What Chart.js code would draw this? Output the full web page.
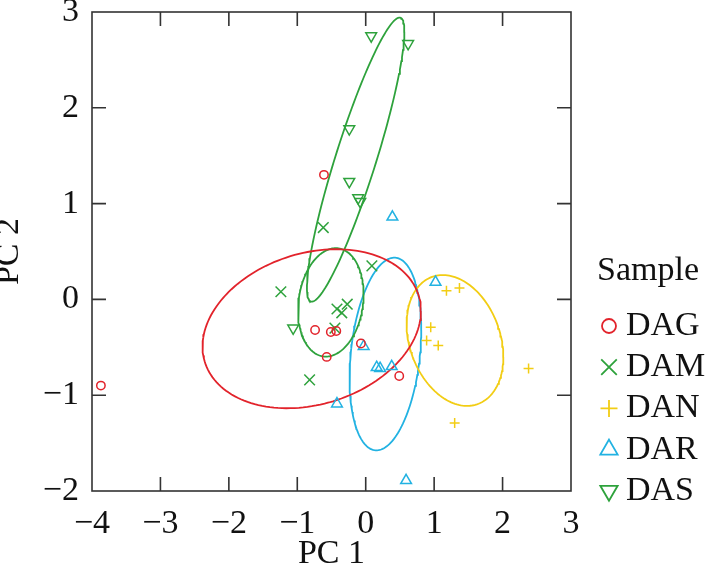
<!DOCTYPE html>
<html>
<head>
<meta charset="utf-8">
<script src="https://cdn.jsdelivr.net/npm/chart.js@4.4.0/dist/chart.umd.min.js"></script>
<style>
html, body { margin: 0; padding: 0; background: #fff; }
</style>
</head>
<body>
<canvas id="pca" width="709" height="578"></canvas>
<script>
// Sample groups and scores on PC1 / PC2
const groups = ['DAG', 'DAM', 'DAN', 'DAR', 'DAS'];

const dagX = [-0.61, -3.87, -0.74, -0.51, -0.43, -0.57, -0.07, 0.49];
const dagY = [1.30, -0.90, -0.32, -0.34, -0.33, -0.60, -0.46, -0.80];

const damX = [-0.62, 0.09, -1.24, -0.82, -0.42, -0.27, -0.35, -0.45];
const damY = [0.75, 0.35, 0.08, -0.84, -0.10, -0.05, -0.14, -0.30];

const danX = [1.18, 1.37, 0.95, 0.89, 1.06, 2.38, 1.30];
const danY = [0.09, 0.12, -0.29, -0.43, -0.48, -0.72, -1.29];

const darX = [0.39, 1.02, -0.03, 0.16, 0.21, 0.38, -0.42, 0.59];
const darY = [0.86, 0.18, -0.49, -0.71, -0.72, -0.70, -1.09, -1.89];

const dasX = [0.08, 0.62, -0.24, -0.24, -0.11, -0.08, -1.06];
const dasY = [2.75, 2.67, 1.78, 1.23, 1.06, 1.02, -0.30];

// ellipse half-extents (x, y) and tilt (cos of phase)
const ellRx = [1.596, 0.479, 0.707, 0.524, 0.712];
const ellRy = [0.830, 0.566, 0.683, 1.006, 1.483];
const ellCos = [0.224, 0.15, -0.251, 0.25, 0.90];

const xTicks = [-4, -3, -2, -1, 0, 1, 2, 3];
const yTicks = [-2, -1, 0, 1, 2, 3];

const colors = ['#e2232b', '#2ea23c', '#f2cd14', '#22b2e2', '#2ea23c'];
const styles = ['circle', 'crossRot', 'cross', 'triangle', 'triangle'];
const rotations = [0, 0, 0, 0, 180];
const radii = [4.2, 7.5, 5, 6.2, 6.2];
const legendRadii = [7, 11, 8.5, 10, 10];

const FONT = 'Liberation Serif, Times New Roman, serif';

const xs = [dagX, damX, danX, darX, dasX];
const ys = [dagY, damY, danY, darY, dasY];

const mean = a => a.reduce((s, v) => s + v, 0) / a.length;

function ellipse(gx, gy, rx, ry, c) {
    const cx = mean(gx), cy = mean(gy);
    const phi = Math.acos(c);
    const pts = [];
    for (let k = 0; k <= 160; k++) {
        const t = k / 160 * 2 * Math.PI;
        pts.push({ x: cx + rx * Math.cos(t), y: cy + ry * Math.cos(t - phi) });
    }
    return pts;
}

const fmt = v => v < 0 ? '\u2212' + Math.abs(v) : String(v);

const datasets = [];
groups.forEach((g, i) => {
    datasets.push({
        label: g,
        data: xs[i].map((x, j) => ({ x: x, y: ys[i][j] })),
        pointStyle: styles[i],
        rotation: rotations[i],
        pointRadius: radii[i],
        pointBorderWidth: 1.5,
        borderColor: colors[i],
        backgroundColor: 'rgba(0,0,0,0)',
        showLine: false
    });
});
groups.forEach((g, i) => {
    datasets.push({
        label: g + ' ellipse',
        data: ellipse(xs[i], ys[i], ellRx[i], ellRy[i], ellCos[i]),
        showLine: true,
        pointRadius: 0,
        borderColor: colors[i],
        borderWidth: 1.8,
        fill: false,
        tension: 0
    });
});

// box around the plot with inward ticks
const framePlugin = {
    id: 'frame',
    beforeDatasetsDraw(chart) {
        const { ctx, chartArea: a, scales: { x, y } } = chart;
        ctx.save();
        ctx.strokeStyle = '#333';
        ctx.lineWidth = 1.6;
        ctx.strokeRect(a.left, a.top, a.right - a.left, a.bottom - a.top);
        ctx.beginPath();
        xTicks.forEach(v => {
            if (v <= x.min || v >= x.max) return;
            const p = x.getPixelForValue(v);
            ctx.moveTo(p, a.bottom); ctx.lineTo(p, a.bottom - 14);
            ctx.moveTo(p, a.top); ctx.lineTo(p, a.top + 14);
        });
        yTicks.forEach(v => {
            if (v <= y.min || v >= y.max) return;
            const p = y.getPixelForValue(v);
            ctx.moveTo(a.left, p); ctx.lineTo(a.left + 14, p);
            ctx.moveTo(a.right, p); ctx.lineTo(a.right - 14, p);
        });
        ctx.stroke();
        ctx.restore();
    }
};

// legend on the right
const legendPlugin = {
    id: 'sampleLegend',
    afterDraw(chart) {
        const ctx = chart.ctx;
        ctx.save();
        ctx.fillStyle = '#111';
        ctx.font = '34px ' + FONT;
        ctx.textAlign = 'left';
        ctx.textBaseline = 'middle';
        ctx.fillText('Sample', 597, 271);
        groups.forEach((g, i) => {
            const yy = 326 + i * 41.2;
            ctx.strokeStyle = colors[i];
            ctx.fillStyle = 'rgba(0,0,0,0)';
            ctx.lineWidth = 1.8;
            Chart.helpers.drawPoint(ctx, {
                pointStyle: styles[i],
                rotation: rotations[i],
                radius: legendRadii[i],
                borderWidth: 1.8
            }, 609, yy);
            ctx.fillStyle = '#111';
            ctx.fillText(g, 626, yy);
        });
        ctx.restore();
    }
};

new Chart(document.getElementById('pca'), {
    type: 'scatter',
    data: { datasets: datasets },
    plugins: [framePlugin, legendPlugin],
    options: {
        responsive: false,
        animation: false,
        events: [],
        layout: { padding: { left: 0, top: 12, right: 138, bottom: 0 } },
        plugins: {
            legend: { display: false },
            tooltip: { enabled: false }
        },
        scales: {
            x: {
                type: 'linear',
                min: -4,
                max: 3,
                afterBuildTicks: s => { s.ticks = xTicks.map(v => ({ value: v })); },
                ticks: {
                    font: { family: FONT, size: 34 },
                    color: '#111',
                    padding: 13,
                    autoSkip: false,
                    maxRotation: 0,
                    callback: v => fmt(v)
                },
                grid: { display: false, drawTicks: false },
                border: { display: false },
                title: {
                    display: true,
                    text: 'PC 1',
                    color: '#111',
                    font: { family: FONT, size: 34 },
                    padding: { top: 0, bottom: 4 }
                },
                afterFit: s => { s.height = 87; s.paddingLeft = 0; s.paddingRight = 0; }
            },
            y: {
                type: 'linear',
                min: -2,
                max: 3,
                afterBuildTicks: s => { s.ticks = yTicks.map(v => ({ value: v })); },
                ticks: {
                    font: { family: FONT, size: 34 },
                    color: '#111',
                    padding: 13,
                    autoSkip: false,
                    callback: v => fmt(v)
                },
                grid: { display: false, drawTicks: false },
                border: { display: false },
                title: {
                    display: true,
                    text: 'PC 2',
                    color: '#111',
                    font: { family: FONT, size: 34, lineHeight: 1 },
                    padding: { top: -7.5, bottom: 0 }
                },
                afterFit: s => { s.width = 92; s.paddingTop = 0; s.paddingBottom = 0; }
            }
        }
    }
});
</script>
</body>
</html>
